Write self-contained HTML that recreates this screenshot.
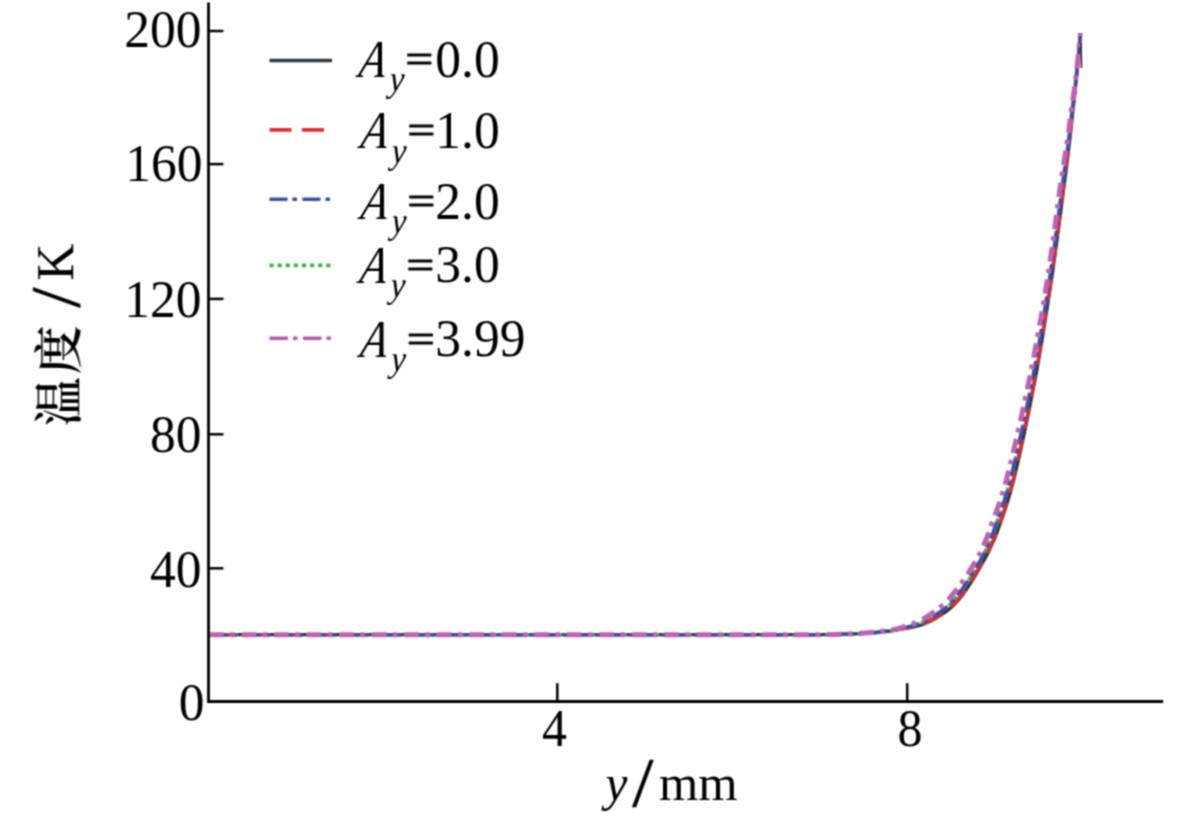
<!DOCTYPE html>
<html lang="zh">
<head>
<meta charset="utf-8">
<title>温度 / K – y / mm</title>
<style>
html,body{margin:0;padding:0;background:#fff;}
body{width:1200px;height:827px;overflow:hidden;}
svg{display:block;}
text{font-family:"Liberation Serif","Noto Serif CJK SC",serif;fill:#000000;}
.i{font-style:italic;}
</style>
</head>
<body>
<svg width="1200" height="827" viewBox="0 0 1200 827">
<defs><filter id="soft" x="0" y="0" width="1200" height="827" filterUnits="userSpaceOnUse" color-interpolation-filters="sRGB"><feConvolveMatrix order="3" kernelMatrix="1 2 1 2 4 2 1 2 1" edgeMode="duplicate" preserveAlpha="false"/></filter></defs>
<rect x="0" y="0" width="1200" height="827" fill="#ffffff"/>
<g filter="url(#soft)">
<!-- data curves -->
<g fill="none" stroke-linecap="butt" stroke-linejoin="round">
<path d="M209.4 634.7 C241.2 634.7 335.2 634.7 400.4 634.7 C465.6 634.7 543.7 634.7 600.4 634.7 C657.1 634.7 707.1 634.7 740.4 634.7 C773.7 634.7 784.6 634.7 800.4 634.7 C816.2 634.7 825.4 634.7 835.4 634.5 C845.4 634.3 852.9 634.0 860.4 633.6 C867.9 633.2 873.8 632.9 880.4 632.2 C887.0 631.5 892.8 630.7 900.1 629.3 C907.4 627.9 916.0 627.2 924.0 624.0 C932.0 620.8 941.9 614.5 947.8 610.3 C953.7 606.0 955.6 603.3 959.6 598.5 C963.6 593.7 967.6 587.9 971.6 581.7 C975.6 575.5 980.5 566.7 983.5 561.3 C986.5 555.9 987.3 554.6 989.7 549.3 C992.1 544.0 994.1 541.0 998.1 529.4 C1002.1 517.8 1007.6 504.5 1013.8 479.6 C1019.9 454.7 1028.7 413.3 1035.0 380.0 C1041.3 346.7 1046.4 313.3 1051.4 280.0 C1056.4 246.7 1061.8 203.3 1064.8 180.0 C1067.9 156.7 1068.3 151.7 1069.7 140.0 C1071.1 128.3 1071.9 120.0 1073.0 110.0 C1074.1 100.0 1074.9 92.8 1076.2 80.0 C1077.5 67.2 1079.9 41.2 1080.6 33.4" stroke="#30373c" stroke-width="3.3"/>
<path d="M209.4 634.7 C241.2 634.7 335.2 634.7 400.4 634.7 C465.6 634.7 543.7 634.7 600.4 634.7 C657.1 634.7 707.1 634.7 740.4 634.7 C773.7 634.7 784.6 634.7 800.4 634.7 C816.2 634.7 825.4 634.7 835.4 634.5 C845.4 634.3 852.9 633.9 860.4 633.5 C867.9 633.0 873.8 632.7 880.4 631.9 C887.0 631.1 892.9 630.4 900.0 628.8 C907.1 627.1 915.4 625.5 923.0 622.0 C930.7 618.5 940.2 611.9 945.8 607.6 C951.4 603.2 953.0 600.6 956.8 595.9 C960.6 591.3 964.7 585.9 968.7 579.9 C972.6 573.8 977.6 565.1 980.6 559.8 C983.6 554.5 984.3 553.3 986.7 548.0 C989.0 542.7 990.7 539.5 994.7 528.0 C998.7 516.5 1004.3 503.5 1010.5 478.8 C1016.8 454.0 1025.9 412.7 1032.4 379.5 C1038.9 346.3 1044.4 313.0 1049.5 279.7 C1054.7 246.5 1060.0 203.1 1063.2 179.8 C1066.3 156.5 1067.2 151.6 1068.7 140.0 C1070.2 128.4 1071.0 120.0 1072.2 110.0 C1073.4 100.0 1074.5 92.8 1075.9 80.0 C1077.3 67.2 1079.7 41.2 1080.5 33.4" stroke="#43b043" stroke-width="3.4" stroke-dasharray="4.2 3.9"/>
<path d="M209.4 634.7 C241.2 634.7 335.2 634.7 400.4 634.7 C465.6 634.7 543.7 634.7 600.4 634.7 C657.1 634.7 707.1 634.7 740.4 634.7 C773.7 634.7 784.6 634.7 800.4 634.7 C816.2 634.7 825.4 634.7 835.4 634.5 C845.4 634.3 852.9 634.0 860.4 633.6 C867.9 633.2 873.8 632.9 880.4 632.1 C887.0 631.4 892.9 630.6 900.1 629.2 C907.3 627.8 915.9 626.8 923.8 623.6 C931.7 620.3 941.5 614.0 947.4 609.7 C953.2 605.5 955.1 602.7 959.0 598.0 C962.9 593.2 967.0 587.5 971.0 581.3 C975.0 575.1 979.9 566.4 982.9 561.0 C985.9 555.6 986.6 554.3 989.1 549.0 C991.5 543.7 993.4 540.7 997.4 529.1 C1001.4 517.5 1006.9 504.3 1013.1 479.4 C1019.2 454.6 1028.1 413.1 1034.4 379.9 C1040.8 346.6 1046.0 313.3 1051.0 279.9 C1056.0 246.6 1061.4 203.3 1064.4 180.0 C1067.5 156.6 1068.1 151.7 1069.5 140.0 C1070.9 128.3 1071.7 120.0 1072.8 110.0 C1073.9 100.0 1074.8 92.8 1076.1 80.0 C1077.4 67.2 1079.8 41.2 1080.6 33.4" stroke="#e22c32" stroke-width="3.3" stroke-dasharray="22 10.5"/>
<path d="M209.4 634.7 C241.2 634.7 335.2 634.7 400.4 634.7 C465.6 634.7 543.7 634.7 600.4 634.7 C657.1 634.7 707.1 634.7 740.4 634.7 C773.7 634.7 784.6 634.7 800.4 634.7 C816.2 634.7 825.4 634.7 835.4 634.5 C845.4 634.3 852.9 633.9 860.4 633.5 C867.9 633.0 873.8 632.7 880.4 631.9 C887.0 631.1 892.9 630.4 900.0 628.8 C907.1 627.1 915.4 625.5 923.0 622.0 C930.7 618.5 940.2 611.9 945.8 607.6 C951.4 603.2 953.0 600.6 956.8 595.9 C960.6 591.3 964.7 585.9 968.7 579.9 C972.6 573.8 977.6 565.1 980.6 559.8 C983.6 554.5 984.3 553.3 986.7 548.0 C989.0 542.7 990.7 539.5 994.7 528.0 C998.7 516.5 1004.3 503.5 1010.5 478.8 C1016.8 454.0 1025.9 412.7 1032.4 379.5 C1038.9 346.3 1044.4 313.0 1049.5 279.7 C1054.7 246.5 1060.0 203.1 1063.2 179.8 C1066.3 156.5 1067.2 151.6 1068.7 140.0 C1070.2 128.4 1071.0 120.0 1072.2 110.0 C1073.4 100.0 1074.5 92.8 1075.9 80.0 C1077.3 67.2 1079.7 41.2 1080.5 33.4" stroke="#3a4ea8" stroke-width="3.5" stroke-dasharray="18 5 4.5 5.5"/>
<path d="M209.4 634.7 C241.2 634.7 335.2 634.7 400.4 634.7 C465.6 634.7 543.7 634.7 600.4 634.7 C657.1 634.7 707.1 634.7 740.4 634.7 C773.7 634.7 784.6 634.7 800.4 634.7 C816.2 634.7 825.4 634.7 835.4 634.4 C845.4 634.2 852.9 633.8 860.4 633.3 C867.9 632.8 873.8 632.4 880.4 631.6 C887.0 630.7 893.0 630.2 899.9 628.2 C906.9 626.2 914.7 623.7 922.0 619.7 C929.2 615.8 938.3 609.0 943.6 604.5 C948.9 600.1 950.0 597.5 953.7 593.0 C957.3 588.6 961.4 583.6 965.4 577.8 C969.3 572.0 974.3 563.3 977.3 558.1 C980.2 552.9 981.0 551.8 983.2 546.5 C985.5 541.2 986.9 537.9 990.8 526.4 C994.8 515.0 1000.5 502.5 1006.9 477.9 C1013.3 453.3 1022.6 412.0 1029.4 378.9 C1036.1 345.8 1042.1 312.7 1047.4 279.5 C1052.7 246.2 1057.9 202.9 1061.3 179.6 C1064.6 156.4 1065.8 151.6 1067.5 140.0 C1069.2 128.4 1070.0 120.0 1071.4 110.0 C1072.7 100.0 1074.1 92.8 1075.6 80.0 C1077.1 67.2 1079.6 41.2 1080.4 33.4" stroke="#c062b2" stroke-width="5.0" stroke-dasharray="14.5 6.5 4.5 7"/>
</g>
<path d="M1081.0 43 L1081.5 68" fill="none" stroke="#2b2238" stroke-width="1.6"/>
<!-- axes -->
<g stroke="#000000" fill="none">
<path d="M208.5 2.5 V701.5 H1163.2" stroke-width="2.8"/>
<path d="M208.5 31.0 H223.4" stroke-width="2.5"/>
<path d="M208.5 164.1 H223.4" stroke-width="2.5"/>
<path d="M208.5 298.9 H223.4" stroke-width="2.5"/>
<path d="M208.5 434.3 H223.4" stroke-width="2.5"/>
<path d="M208.5 568.3 H223.4" stroke-width="2.5"/>
<path d="M557.3 701.5 V683.2" stroke-width="2.5"/>
<path d="M907.2 701.5 V683.2" stroke-width="2.5"/>
</g>
<!-- tick labels -->
<text transform="translate(201.6 46.9) scale(1.000 1.040)" font-size="51.5" text-anchor="end">200</text>
<text transform="translate(202.4 181.4) scale(1.000 1.040)" font-size="51.5" text-anchor="end">160</text>
<text transform="translate(201.6 317.4) scale(1.000 1.040)" font-size="51.5" text-anchor="end">120</text>
<text transform="translate(201.6 451.6) scale(1.000 1.040)" font-size="51.5" text-anchor="end">80</text>
<text transform="translate(201.6 587.4) scale(1.000 1.040)" font-size="51.5" text-anchor="end">40</text>
<text transform="translate(204.4 720.2) scale(1.000 1.040)" font-size="51.5" text-anchor="end">0</text>
<text transform="translate(554.4 746.0) scale(0.970 1.030)" font-size="51.5" text-anchor="middle">4</text>
<text transform="translate(910.0 746.0) scale(0.970 1.030)" font-size="51.5" text-anchor="middle">8</text>
<!-- x axis label -->
<text transform="translate(605.4 799.6) scale(0.960 0.980)" font-size="51.5" class="i">y</text>
<text transform="translate(632.2 805.6) scale(1.080 1.000)" font-size="70.5" stroke="#000000" stroke-width="0.5">/</text>
<text transform="translate(659.0 799.6) scale(0.983 0.990)" font-size="51.5">mm</text>
<!-- y axis label -->
<g transform="translate(73.2 425) rotate(-90)">
<text transform="translate(-1.3 3.0) scale(1.000 1.000)" font-size="49.0" font-weight="600" letter-spacing="3.1">温度</text>
<text transform="translate(117.2 6.0) scale(1.040 1.000)" font-size="70.5" stroke="#000000" stroke-width="0.5">/</text>
<text transform="translate(144.2 0.0) scale(1.000 1.040)" font-size="51.5">K</text>
</g>
<!-- legend -->
<g fill="none">
<path d="M269.5 60.5 H332" stroke="#30373c" stroke-width="3.6"/>
<path d="M269.5 129.9 H325" stroke="#e22c32" stroke-width="3.6" stroke-dasharray="22 10.5"/>
<path d="M269.5 199.3 H332" stroke="#3a4ea8" stroke-width="3.6" stroke-dasharray="18 5 4.5 5.5"/>
<path d="M269.5 265.4 H332" stroke="#43b043" stroke-width="3.6" stroke-dasharray="4.2 3.9"/>
<path d="M269.5 338.3 H332" stroke="#bb58ac" stroke-width="3.6" stroke-dasharray="18.5 5 4.5 5.5"/>
</g>
<text transform="translate(357.6 76.8) scale(0.850 1.030) skewX(-11.0)" font-size="51.5" class="i">A</text>
<text transform="translate(389.1 91.0) scale(0.980 1.080) skewX(-4.0)" font-size="34.0" class="i">y</text>
<text transform="translate(405.6 71.8) scale(0.950 0.750)" font-size="51.5" stroke="#000000" stroke-width="1.5">=</text>
<text transform="translate(435.3 76.7) scale(1.000 1.040)" font-size="51.5">0.0</text>
<text transform="translate(359.5 148.3) scale(0.850 1.030) skewX(-11.0)" font-size="51.5" class="i">A</text>
<text transform="translate(391.0 162.6) scale(0.980 1.080) skewX(-4.0)" font-size="34.0" class="i">y</text>
<text transform="translate(407.5 143.3) scale(0.950 0.750)" font-size="51.5" stroke="#000000" stroke-width="1.5">=</text>
<text transform="translate(435.3 147.5) scale(1.000 1.040)" font-size="51.5">1.0</text>
<text transform="translate(359.6 218.7) scale(0.850 1.030) skewX(-11.0)" font-size="51.5" class="i">A</text>
<text transform="translate(391.1 232.9) scale(0.980 1.080) skewX(-4.0)" font-size="34.0" class="i">y</text>
<text transform="translate(407.6 213.7) scale(0.950 0.750)" font-size="51.5" stroke="#000000" stroke-width="1.5">=</text>
<text transform="translate(435.3 218.8) scale(1.000 1.040)" font-size="51.5">2.0</text>
<text transform="translate(358.5 283.0) scale(0.850 1.030) skewX(-11.0)" font-size="51.5" class="i">A</text>
<text transform="translate(390.0 297.2) scale(0.980 1.080) skewX(-4.0)" font-size="34.0" class="i">y</text>
<text transform="translate(406.5 278.0) scale(0.950 0.750)" font-size="51.5" stroke="#000000" stroke-width="1.5">=</text>
<text transform="translate(435.3 282.2) scale(1.000 1.040)" font-size="51.5">3.0</text>
<text transform="translate(359.1 356.7) scale(0.850 1.030) skewX(-11.0)" font-size="51.5" class="i">A</text>
<text transform="translate(390.6 370.9) scale(0.980 1.080) skewX(-4.0)" font-size="34.0" class="i">y</text>
<text transform="translate(407.1 351.7) scale(0.950 0.750)" font-size="51.5" stroke="#000000" stroke-width="1.5">=</text>
<text transform="translate(435.3 356.1) scale(1.000 1.040)" font-size="51.5">3.99</text>
</g>
</svg>
</body>
</html>
